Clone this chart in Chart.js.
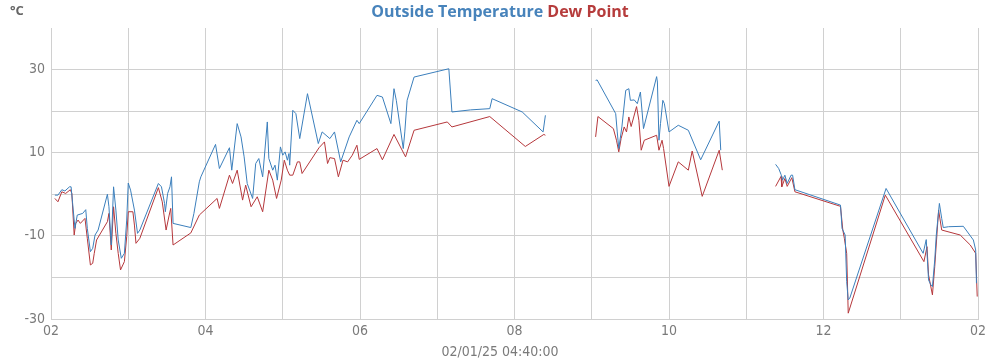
<!DOCTYPE html>
<html>
<head>
<meta charset="utf-8">
<script src="https://cdn.jsdelivr.net/npm/chart.js@4/dist/chart.umd.min.js"></script>
<style>
html,body{margin:0;padding:0;background:#fff;}
#wrap{width:1000px;height:360px;position:relative;}
</style>
</head>
<body>
<div id="wrap"><canvas id="c" width="1000" height="360"></canvas></div>
<script>
// ---- data (hours after 02:00, °C) ----
const titleTemp = 'Outside Temperature';
const titleDew = 'Dew Point';
const unitLabel = '°C';
const xAxisTitle = '02/01/25 04:40:00';
const xTickLabels = ['02','04','06','08','10','12','02'];
const yTickLabels = [30, 10, -10, -30];

const tempTimes = [0.05,0.09,0.14,0.18,0.24,0.26,0.28,0.31,0.34,0.41,0.45,0.47,0.51,0.54,0.57,0.61,0.73,0.75,0.78,0.81,0.84,0.87,0.91,0.95,0.98,1.00,1.03,1.08,1.12,1.15,1.39,1.43,1.47,1.48,1.51,1.54,1.56,1.58,1.81,1.85,1.92,1.94,2.13,2.18,2.31,2.34,2.41,2.46,2.50,2.54,2.61,2.65,2.69,2.74,2.80,2.82,2.87,2.90,2.93,2.97,3.00,3.03,3.06,3.08,3.09,3.13,3.17,3.22,3.32,3.46,3.51,3.61,3.67,3.75,3.86,3.96,3.99,4.22,4.29,4.40,4.44,4.47,4.56,4.58,4.61,4.70,5.15,5.19,5.43,5.68,5.71,6.10,6.37,6.40,
  6.70,
  7.05,7.07,7.31,7.33,7.35,7.39,7.44,7.48,7.50,7.55,7.59,7.63,7.67,7.84,7.85,7.87,7.89,7.92,7.94,8.00,8.12,8.25,8.41,8.65,8.67,
  9.00,
  9.38,9.42,9.45,9.47,9.50,9.53,9.58,9.60,9.63,10.22,10.24,10.28,10.30,10.32,10.34,10.81,11.29,11.33,11.36,11.39,11.41,11.44,11.46,11.50,11.53,11.55,11.62,11.81,11.94,11.97,11.98];
const tempValues = [-0.2,-0.2,1.1,0.8,1.8,1.8,-2.2,-8.2,-5.0,-4.6,-3.7,-8.2,-13.8,-13.0,-9.8,-8.6,0.0,-3.0,-12.2,1.8,-3.8,-11.0,-15.4,-14.2,-6.2,2.7,1.0,-3.8,-9.4,-8.6,2.6,1.8,-2.2,-4.2,0.2,1.8,4.2,-7.0,-8.0,-4.6,3.0,4.2,12.0,6.2,11.2,5.8,17.0,13.8,9.0,2.6,-1.0,7.4,8.6,4.2,17.4,8.6,5.8,7.0,3.4,11.4,9.4,10.2,8.2,9.8,7.0,20.2,19.4,13.4,24.2,12.2,15.0,13.4,15.0,7.8,13.8,17.8,17.0,23.8,23.4,17.0,25.4,22.6,11.0,15.0,22.6,28.2,30.2,19.8,20.3,20.6,23.0,19.8,15.0,19.0,
  null,
  27.4,27.5,19.4,15.0,11.0,16.2,25.0,25.4,22.6,22.7,21.8,24.6,15.8,28.3,27.0,13.0,17.0,22.6,21.8,15.0,16.6,15.4,8.3,17.6,10.6,
  null,
  7.2,6.2,4.8,3.4,4.6,2.6,4.6,4.6,1.1,-2.6,-8.2,-9.8,-21.0,-25.4,-25.0,1.4,-14.2,-10.9,-20.6,-21.8,-22.2,-15.8,-9.8,-2.2,-5.8,-8.0,-7.8,-7.7,-11.0,-13.4,-21.4];

const dewTimes = [0.05,0.09,0.14,0.19,0.25,0.27,0.30,0.32,0.35,0.38,0.44,0.47,0.51,0.54,0.56,0.59,0.73,0.75,0.78,0.81,0.84,0.87,0.90,0.95,0.98,1.00,1.06,1.08,1.10,1.15,1.39,1.44,1.49,1.53,1.55,1.58,1.81,1.92,2.15,2.18,2.31,2.35,2.41,2.48,2.52,2.59,2.67,2.74,2.82,2.87,2.92,2.98,3.02,3.06,3.09,3.13,3.19,3.22,3.25,3.47,3.54,3.58,3.61,3.67,3.72,3.78,3.84,3.90,3.96,3.99,4.22,4.29,4.44,4.59,4.70,5.13,5.19,5.68,6.14,6.38,6.40,
  6.70,
  7.05,7.08,7.28,7.32,7.35,7.38,7.42,7.45,7.48,7.51,7.58,7.61,7.64,7.68,7.84,7.87,7.91,7.93,8.00,8.12,8.25,8.30,8.43,8.65,8.69,
  9.00,
  9.38,9.45,9.46,9.50,9.53,9.59,9.63,10.22,10.25,10.27,10.30,10.32,10.80,11.30,11.34,11.36,11.41,11.44,11.49,11.53,11.77,11.90,11.97,11.99];
const dewValues = [-1.0,-1.8,0.6,0.2,1.1,0.2,-9.8,-7.0,-6.2,-7.0,-5.8,-10.6,-17.0,-16.6,-14.2,-11.0,-6.6,-4.6,-13.4,-3.0,-9.4,-14.2,-18.2,-16.2,-10.2,-4.2,-4.2,-7.4,-11.8,-10.6,1.6,-1.8,-8.6,-5.0,-3.4,-12.2,-9.3,-5.0,-1.0,-3.4,4.6,2.6,5.8,-1.4,2.2,-3.0,-0.6,-4.2,5.8,3.4,-1.0,3.4,8.2,5.8,4.6,4.6,7.8,7.8,5.0,11.2,12.6,7.4,8.8,8.6,4.2,8.2,7.8,9.4,11.8,8.4,11.0,8.3,14.4,9.0,15.4,17.4,16.2,18.7,11.5,14.4,14.2,
  null,
  13.8,18.7,15.8,13.0,10.2,13.4,16.2,15.0,18.6,16.3,21.1,17.8,10.6,13.0,14.2,10.6,13.0,11.0,1.9,7.8,5.8,10.4,-0.5,10.6,5.8,
  null,
  1.9,4.3,1.8,3.8,1.9,4.0,0.6,-2.9,-8.6,-10.6,-14.2,-28.6,-0.2,-16.2,-12.6,-19.4,-24.2,-17.4,-3.8,-8.6,-9.8,-12.2,-14.2,-24.6];

// ---- colours / styles ----
const tempColor = '#3b7fbc';
const dewColor = '#b5373b';
const tempTitleColor = '#4783bb';
const dewTitleColor = '#b63c3c';
const gridColor = '#d0d0d0';
const tickColor = '#7a7a7a';
const tickFont = "'Liberation Sans Narrow','DejaVu Sans Condensed','Roboto',sans-serif";

const toPoints = (xs, ys) => xs.map((x, i) => ({x: x, y: ys[i]}));

const headerPlugin = {
  id: 'header',
  afterDraw(chart) {
    const ctx = chart.ctx;
    ctx.save();
    ctx.font = "bold 16px 'Open Sans', 'Noto Sans', sans-serif";
    ctx.textBaseline = 'middle';
    ctx.textAlign = 'left';
    const space = ctx.measureText(' ').width;
    const w1 = ctx.measureText(titleTemp).width;
    const w2 = ctx.measureText(titleDew).width;
    const total = w1 + space + w2;
    const x0 = 500 - total / 2;
    ctx.fillStyle = tempTitleColor;
    ctx.fillText(titleTemp, x0, 12);
    ctx.fillStyle = dewTitleColor;
    ctx.fillText(titleDew, x0 + w1 + space, 12);
    ctx.font = "bold 13px 'Open Sans', 'Noto Sans', sans-serif";
    ctx.fillStyle = '#666';
    ctx.fillText(unitLabel, 10, 11);
    ctx.font = "14px " + tickFont;
    ctx.fillStyle = tickColor;
    ctx.textAlign = 'center';
    ctx.fillText(xAxisTitle, 500, 352);
    ctx.restore();
  }
};

new Chart(document.getElementById('c'), {
  type: 'line',
  data: {
    datasets: [
      {label: titleTemp, data: toPoints(tempTimes, tempValues), borderColor: tempColor, borderWidth: 1, pointRadius: 0, tension: 0, spanGaps: false, fill: false},
      {label: titleDew, data: toPoints(dewTimes, dewValues), borderColor: dewColor, borderWidth: 1, pointRadius: 0, tension: 0, spanGaps: false, fill: false}
    ]
  },
  options: {
    responsive: false,
    animation: false,
    events: [],
    layout: {padding: {top: 28, right: 22, left: 0, bottom: 0}},
    plugins: {legend: {display: false}, title: {display: false}, tooltip: {enabled: false}},
    scales: {
      x: {
        type: 'linear', min: 0, max: 12,
        afterFit(scale) { scale.height = 41; },
        grid: {color: gridColor, drawTicks: false},
        border: {color: gridColor},
        ticks: {
          stepSize: 1, autoSkip: false, maxRotation: 0, padding: 4,
          color: tickColor, font: {family: tickFont, size: 14},
          callback: v => (v % 2 === 0 ? xTickLabels[v / 2] : '')
        },
        title: {display: false}
      },
      y: {
        min: -30, max: 40,
        afterFit(scale) { scale.width = 51; },
        grid: {color: c => (c.tick && c.tick.value === 40 ? 'rgba(0,0,0,0)' : gridColor), drawTicks: false},
        border: {color: gridColor},
        ticks: {
          stepSize: 10, padding: 6, color: tickColor, font: {family: tickFont, size: 14},
          callback: v => (yTickLabels.includes(v) ? String(v) : '')
        }
      }
    }
  },
  plugins: [headerPlugin]
});
</script>
</body>
</html>
